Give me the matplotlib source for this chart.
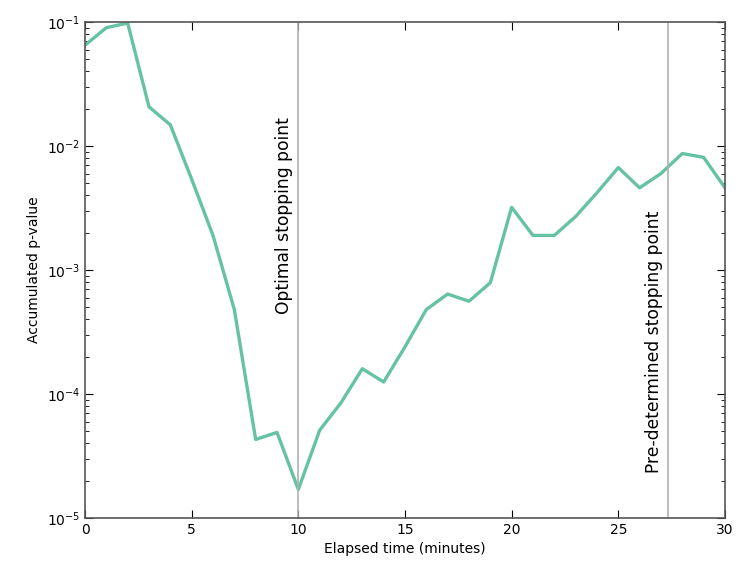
import numpy as np
import matplotlib
matplotlib.use("Agg")
import matplotlib.pyplot as plt

# elapsed minutes and accumulated p-value
minutes = list(range(0, 31))
p_value = [0.065, 0.09, 0.098, 0.0207, 0.0148, 0.0054, 0.0019, 4.8e-4,
           4.3e-5, 4.9e-5, 1.7e-5, 5.1e-5, 8.5e-5, 1.6e-4, 1.25e-4, 2.4e-4,
           4.8e-4, 6.4e-4, 5.6e-4, 7.9e-4, 3.2e-3, 1.9e-3, 1.9e-3, 2.7e-3,
           4.2e-3, 6.7e-3, 4.6e-3, 6.0e-3, 8.7e-3, 8.1e-3, 4.6e-3]

optimal_stop = 10
predetermined_stop = 27.33

fig = plt.figure(figsize=(7.36, 5.7), dpi=100)
ax = fig.add_axes([0.1155, 0.0912, 0.8695, 0.8702])

ax.plot(minutes, p_value, color='#66c2a5', lw=2.4)
ax.axvline(optimal_stop, color='#b0b0b0', lw=1.2)
ax.axvline(predetermined_stop, color='#b0b0b0', lw=1.2)

# labels sit just left of each stopping line
ax.text(optimal_stop - 0.25, 0.017, 'Optimal stopping point', rotation=90,
        ha='right', va='top', fontsize=12.3)
ax.text(predetermined_stop - 0.25, 2.3e-5, 'Pre-determined stopping point',
        rotation=90, ha='right', va='bottom', fontsize=12.3)

ax.set_yscale('log')
ax.set_xlim(0, 30)
ax.set_ylim(1e-5, 1e-1)
ax.set_xlabel('Elapsed time (minutes)', fontsize=10)
ax.set_ylabel('Accumulated p-value', fontsize=10)
ax.tick_params(which='both', direction='in', top=True, right=True)
ax.tick_params(which='major', length=6, labelsize=10)
ax.tick_params(which='minor', length=3)
for s in ax.spines.values():
    s.set_color('#555555')
    s.set_linewidth(1.2)

fig.savefig('out.png', dpi=100)
